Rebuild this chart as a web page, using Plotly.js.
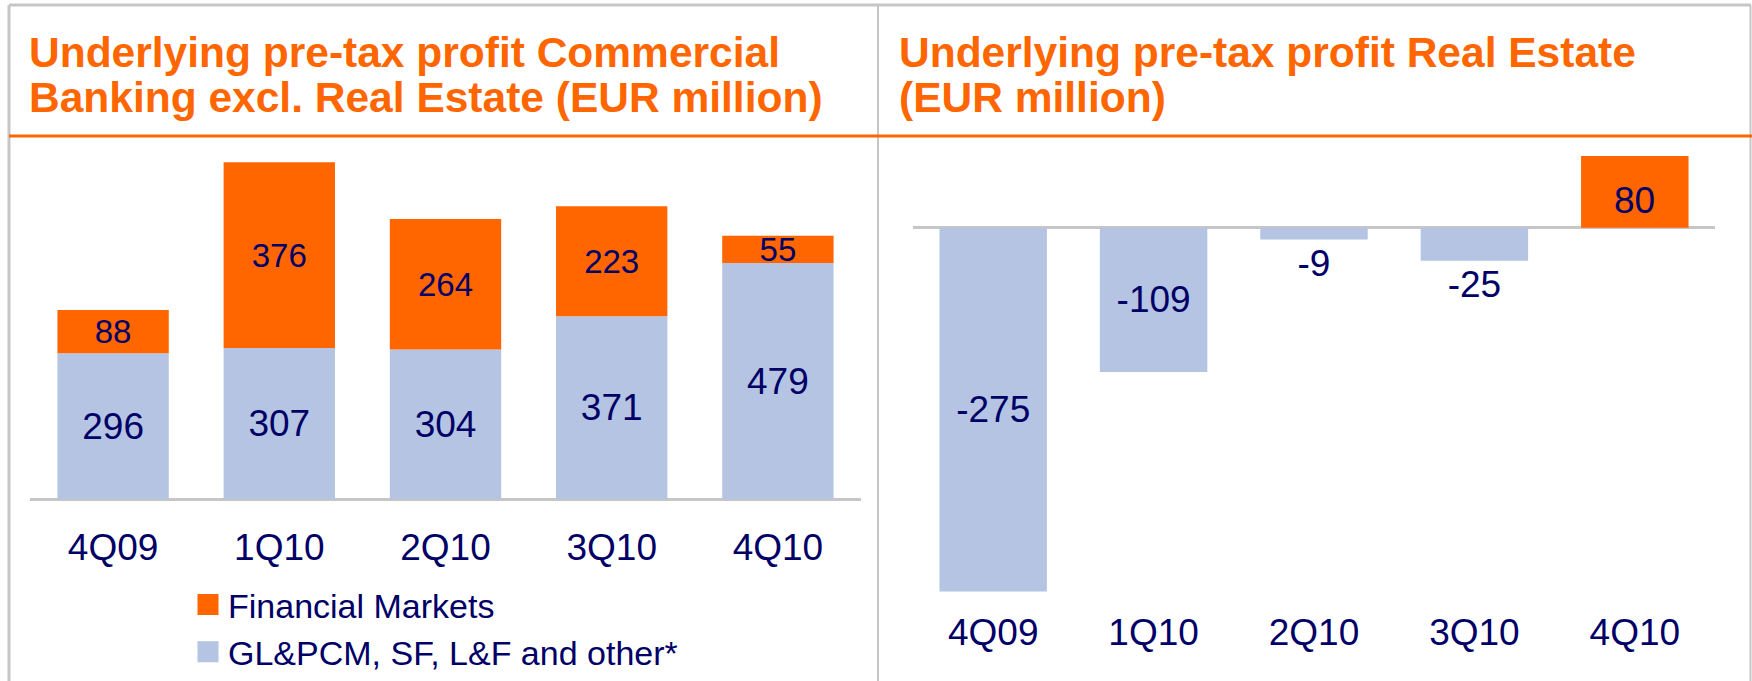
<!DOCTYPE html>
<html>
<head>
<meta charset="utf-8">
<script src="https://cdn.plot.ly/plotly-3.0.1.min.js"></script>
<style>
  html, body { margin: 0; padding: 0; background: #ffffff; }
  #chart { width: 1752px; height: 681px; }
</style>
</head>
<body>
<div id="chart"></div>
<script>
// ---- data ----
const quarters = ['4Q09', '1Q10', '2Q10', '3Q10', '4Q10'];
const glValues = [296, 307, 304, 371, 479];   // GL&PCM, SF, L&F and other*
const fmValues = [88, 376, 264, 223, 55];     // Financial Markets
const reValues = [-275, -109, -9, -25, 80];   // Real Estate
const seriesNames = ['GL&PCM, SF, L&F and other*', 'Financial Markets'];
const titleLeft = ['Underlying pre-tax profit Commercial', 'Banking excl. Real Estate (EUR million)'];
const titleRight = ['Underlying pre-tax profit Real Estate', '(EUR million)'];

// ---- style ----
const W = 1752, H = 681;
const ORANGE = '#FF6600';
const BLUE = '#B4C4E2';
const NAVY = '#000066';
const GRAY = '#C6C6C6';
const FONT = 'Liberation Sans, Arial, sans-serif';
const px = v => v / W;
const py = v => 1 - v / H;

const reNeg = reValues.map(v => (v < 0 ? v : null));
const rePos = reValues.map(v => (v > 0 ? v : null));

const traces = [
  {
    type: 'bar', x: quarters, y: glValues, name: seriesNames[0], showlegend: false,
    xaxis: 'x', yaxis: 'y',
    marker: { color: BLUE },
    text: glValues.map(String), textposition: 'inside', insidetextanchor: 'middle',
    textangle: 0, constraintext: 'none',
    insidetextfont: { family: FONT, size: 37, color: NAVY },
    hoverinfo: 'skip'
  },
  {
    type: 'bar', x: quarters, y: fmValues, name: seriesNames[1], showlegend: false,
    xaxis: 'x', yaxis: 'y',
    marker: { color: ORANGE },
    text: fmValues.map(String), textposition: 'inside', insidetextanchor: 'middle',
    textangle: 0, constraintext: 'none',
    insidetextfont: { family: FONT, size: 33, color: NAVY },
    hoverinfo: 'skip'
  },
  {
    type: 'bar', x: quarters, y: reNeg, name: 'Real Estate (loss)', showlegend: false,
    xaxis: 'x2', yaxis: 'y2',
    marker: { color: BLUE },
    text: reValues.map(String),
    textposition: ['inside', 'inside', 'outside', 'outside', 'inside'],
    insidetextanchor: 'middle', textangle: 0, constraintext: 'none', cliponaxis: false,
    insidetextfont: { family: FONT, size: 37, color: NAVY },
    outsidetextfont: { family: FONT, size: 37, color: NAVY },
    hoverinfo: 'skip'
  },
  {
    type: 'bar', x: quarters, y: rePos, name: 'Real Estate (profit)', showlegend: false,
    xaxis: 'x2', yaxis: 'y2',
    marker: { color: ORANGE },
    textposition: 'none',
    hoverinfo: 'skip'
  },
  // legend keys only (no plotted point)
  {
    type: 'scatter', mode: 'markers', x: [quarters[0]], y: [null], name: seriesNames[1],
    xaxis: 'x', yaxis: 'y',
    marker: { symbol: 'square', size: 24, color: ORANGE, line: { color: ORANGE, width: 5 } },
    hoverinfo: 'skip'
  },
  {
    type: 'scatter', mode: 'markers', x: [quarters[0]], y: [null], name: seriesNames[0],
    xaxis: 'x', yaxis: 'y',
    marker: { symbol: 'square', size: 24, color: BLUE, line: { color: BLUE, width: 5 } },
    hoverinfo: 'skip'
  }
];

const xCommon = {
  type: 'category', range: [-0.5, 4.5], showline: false, showgrid: false, zeroline: false,
  ticks: '', tickfont: { family: FONT, size: 37, color: NAVY }, fixedrange: true
};
const yCommon = {
  showgrid: false, showticklabels: false, ticks: '', showline: false,
  zeroline: true, zerolinecolor: GRAY, zerolinewidth: 2.5, fixedrange: true
};

function line(x0, y0, x1, y1, color, width) {
  return { type: 'line', xref: 'paper', yref: 'paper',
           x0: px(x0), y0: py(y0), x1: px(x1), y1: py(y1),
           line: { color: color, width: width }, layer: 'above' };
}

function titleAnn(text, x, yc) {
  return { xref: 'paper', yref: 'paper', x: px(x), y: py(yc), xanchor: 'left', yanchor: 'middle',
           text: text, showarrow: false,
           font: { family: FONT, size: 42.5, color: ORANGE, weight: 700 } };
}

// value labels for the positive Real Estate bar(s), placed through the axis scales
const posLabels = [];
rePos.forEach((v, i) => {
  if (v !== null) {
    posLabels.push({ xref: 'x2', yref: 'y2', x: quarters[i], y: 0, xanchor: 'center', yanchor: 'bottom',
                     yshift: 5, text: String(v), showarrow: false,
                     font: { family: FONT, size: 37, color: NAVY } });
  }
});

const layout = {
  width: W, height: H,
  margin: { l: 0, r: 0, t: 0, b: 0, pad: 0 },
  paper_bgcolor: '#ffffff', plot_bgcolor: 'rgba(0,0,0,0)',
  barmode: 'relative', bargap: 0.33,
  showlegend: true,
  legend: {
    x: px(188), y: py(576), xanchor: 'left', yanchor: 'top',
    traceorder: 'normal', orientation: 'v', itemsizing: 'trace',
    font: { family: FONT, size: 34, color: NAVY },
    bgcolor: 'rgba(0,0,0,0)', borderwidth: 0, tracegroupgap: 0
  },
  xaxis: Object.assign({}, xCommon, { domain: [px(30), px(861)], anchor: 'y', ticklabelstandoff: 22 }),
  yaxis: Object.assign({}, yCommon, { domain: [py(499.5), py(150)], range: [0, 707.9], anchor: 'x' }),
  xaxis2: Object.assign({}, xCommon, { domain: [px(913), px(1715)], anchor: 'y2', ticklabelstandoff: 11 }),
  yaxis2: Object.assign({}, yCommon, { domain: [py(596), py(156)], range: [-278.4, 54.2], anchor: 'x2' }),
  shapes: [
    line(9, 5, 1751, 5, GRAY, 3),
    line(9, 5, 9, 681, GRAY, 3),
    line(878, 5, 878, 681, GRAY, 2),
    line(1750.5, 5, 1750.5, 681, GRAY, 2),
    line(9, 136, 1752, 136, ORANGE, 3)
  ],
  annotations: [
    titleAnn(titleLeft[0], 27, 52.5),
    titleAnn(titleLeft[1], 27, 97.5),
    titleAnn(titleRight[0], 897, 52.5),
    titleAnn(titleRight[1], 897, 97.5)
  ].concat(posLabels)
};

Plotly.newPlot('chart', traces, layout, { staticPlot: true, displayModeBar: false });
</script>
</body>
</html>
